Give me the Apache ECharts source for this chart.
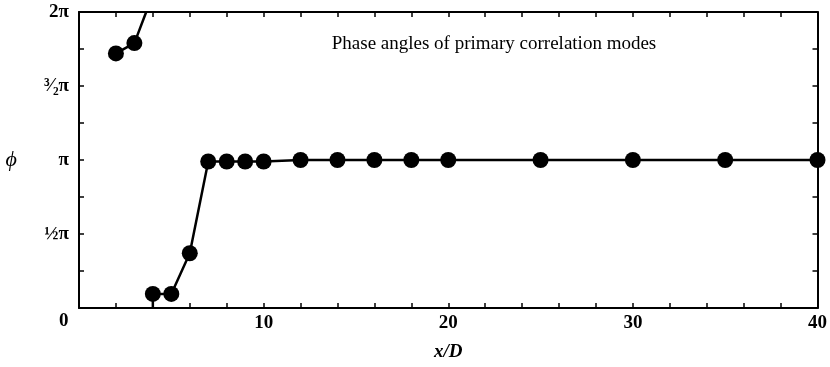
<!DOCTYPE html>
<html>
<head>
<meta charset="utf-8">
<script src="https://cdn.jsdelivr.net/npm/echarts@6/dist/echarts.min.js"></script>
<style>
  html, body { margin: 0; padding: 0; background: #fff; }
  #chart { width: 830px; height: 367px; }
</style>
</head>
<body>
<div id="chart"></div>
<script>
// Streamwise stations x/D and phase angle of the primary mode, in units of π
const xD = [2, 3, 4, 5, 6, 7, 8, 9, 10, 12, 14, 16, 18, 20, 25, 30, 35, 40];
const phaseOverPi = [1.72, 1.79, 0.095, 0.095, 0.37, 0.99, 0.99, 0.99, 0.99, 1, 1, 1, 1, 1, 1, 1, 1, 1];

// Phase wraps through 2π between x/D = 3 and 4: the trace leaves the top and re-enters at the bottom
const wrapOut = [3.64, 2];
const wrapIn = [4, 0];

// y tick labels at multiples of π/4 (only the half-π ticks are labelled)
const yTickLabels = { 0.5: '½π', 1: 'π', 1.5: '³⁄₂π', 2: '2π' };
const xLabelStep = 10;

const serif = '"Liberation Serif", "DejaVu Serif", serif';

// Line through the stations, split at the 2π wrap
const lineData = [];
lineData.push([xD[0], phaseOverPi[0]], [xD[1], phaseOverPi[1]], wrapOut, '-', wrapIn);
for (let i = 2; i < xD.length; i++) lineData.push([xD[i], phaseOverPi[i]]);

const markerData = xD.map((x, i) => [x, phaseOverPi[i]]);

const axisCommon = {
  type: 'value',
  axisLine: { show: true, onZero: false, lineStyle: { color: '#000', width: 2 } },
  axisTick: { show: true, inside: true, length: 5, lineStyle: { color: '#000', width: 1.5 } },
  splitLine: { show: false }
};

const option = {
  animation: false,
  backgroundColor: '#fff',
  grid: { left: 79, right: 8, top: 12, bottom: 59 },
  title: {
    text: 'Phase angles of primary correlation modes',
    left: 489, top: 30, textAlign: 'center',
    textStyle: { fontFamily: serif, fontSize: 19, fontWeight: 'normal', color: '#000' }
  },
  graphic: [{
    type: 'text', left: 59, top: 312,
    style: { text: '0', font: 'bold 19px ' + serif, fill: '#000' }
  }],
  xAxis: [
    Object.assign({}, axisCommon, {
      position: 'bottom', min: 0, max: 40, interval: 2,
      name: 'x/D', nameLocation: 'middle', nameGap: 35,
      nameTextStyle: { fontFamily: serif, fontSize: 19, fontStyle: 'italic', fontWeight: 'bold', color: '#000' },
      axisLabel: {
        margin: 6, fontFamily: serif, fontSize: 19, fontWeight: 'bold', color: '#000',
        formatter: v => (v !== 0 && v % xLabelStep === 0) ? String(v) : ''
      }
    }),
    Object.assign({}, axisCommon, {
      position: 'top', min: 0, max: 40, interval: 2, axisLabel: { show: false }
    })
  ],
  yAxis: [
    Object.assign({}, axisCommon, {
      position: 'left', min: 0, max: 2, interval: 0.25,
      name: 'ϕ', nameLocation: 'middle', nameGap: 62, nameRotate: 0,
      nameTextStyle: { fontFamily: serif, fontSize: 22, fontStyle: 'italic', color: '#000' },
      axisLabel: {
        margin: 10, fontFamily: serif, fontSize: 19, fontWeight: 'bold', color: '#000',
        formatter: v => yTickLabels[v] || ''
      }
    }),
    Object.assign({}, axisCommon, {
      position: 'right', min: 0, max: 2, interval: 0.25, axisLabel: { show: false }
    })
  ],
  series: [
    {
      type: 'line', data: lineData, showSymbol: false, connectNulls: false,
      lineStyle: { color: '#000', width: 2.5 }, z: 2
    },
    {
      type: 'scatter', data: markerData, symbol: 'circle', symbolSize: 16,
      itemStyle: { color: '#000', opacity: 1 }, z: 3
    }
  ]
};

echarts.init(document.getElementById('chart')).setOption(option);
</script>
</body>
</html>
